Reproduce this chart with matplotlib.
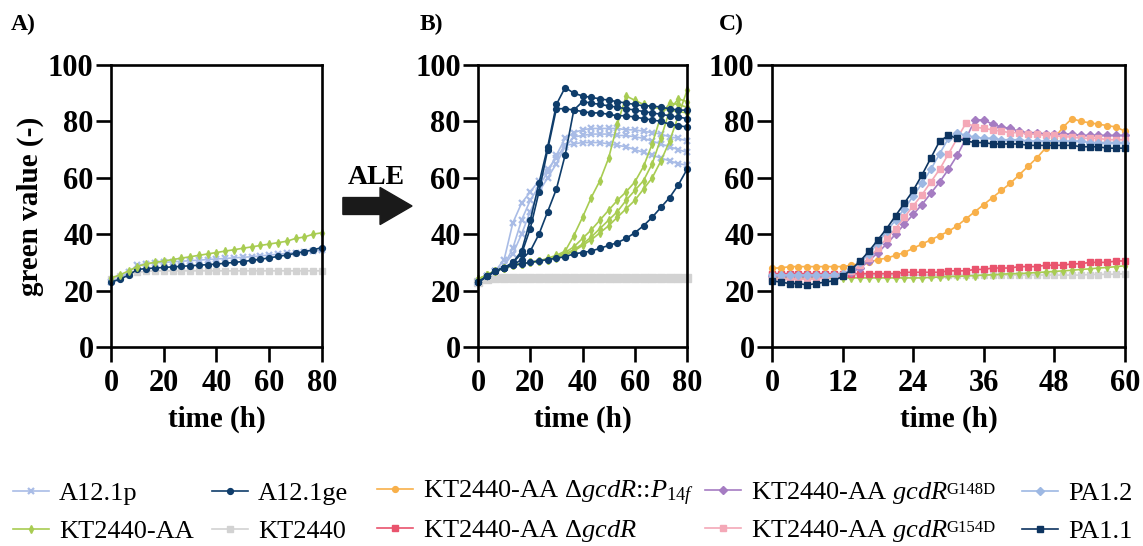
import matplotlib
matplotlib.use('Agg')
import matplotlib.pyplot as plt
from matplotlib.patches import FancyArrow
from matplotlib.transforms import IdentityTransform
import numpy as np

plt.rcParams['font.family'] = ['Liberation Serif', 'DejaVu Serif']
plt.rcParams['mathtext.fontset'] = 'custom'
plt.rcParams['mathtext.rm'] = 'Liberation Serif'
plt.rcParams['mathtext.it'] = 'Liberation Serif:italic'
plt.rcParams['mathtext.bf'] = 'Liberation Serif:bold'

# ---------------- data ----------------
# panels A and B: one reading every ~3.3 h over 80 h
t_ab = np.linspace(0, 80, 25)
# panel C: one reading every 1.5 h over 60 h
t_c = np.linspace(0, 60, 41)

# panel A
a_a12p = [23, 24.5, 26.5, 29, 29.5, 29.8, 30, 30.2, 30.4, 30.6, 30.8, 31, 31.2,
          31.4, 31.6, 31.8, 32, 32.3, 32.6, 32.9, 33.2, 33.5, 33.8, 34, 34.3]
a_a12ge = [23, 24, 25.5, 27.5, 27.8, 28, 28.2, 28.4, 28.6, 28.8, 29, 29.2, 29.4,
           29.7, 30, 30.3, 30.7, 31.1, 31.6, 32.1, 32.6, 33.2, 33.8, 34.5, 35.2]
a_kt = [24, 25, 26, 26.5, 26.8, 27, 27, 27, 27, 27, 27, 27, 27, 27, 27, 27, 27,
        27, 27, 27, 27, 27, 27, 27, 27]
a_ktaa = [24.5, 25.5, 27, 28.5, 29.5, 30, 30.5, 31, 31.5, 32, 32.5, 33, 33.5,
          34, 34.5, 35, 35.5, 36, 36.5, 37, 37.5, 38.5, 39, 40, 40.5]

# panel B (replicate evolved lines)
b_a12p = [
    [23, 25, 27, 31, 44, 51, 55, 59, 63, 67, 71.5, 72, 72.5, 72.5, 72.5, 72, 71.5,
     71, 70, 69, 68, 67, 66, 65, 64.5],
    [23, 25, 27, 29, 35, 45, 52, 57, 62, 68, 74, 76, 77, 77.5, 77.5, 77.5, 77.5,
     77, 77, 76.5, 76, 75.5, 74.5, 74, 73],
    [23, 25, 27, 29, 33, 40, 48, 55, 60, 65, 71, 74.5, 75, 75.5, 75.5, 75.5, 75,
     75, 74.5, 74, 73, 72, 71, 70, 69],
]
b_a12ge = [
    [23, 25, 27, 28, 30, 34, 45, 58, 71, 86, 92, 90, 89, 88.5, 88, 87.5, 87, 86.5,
     86, 85.5, 85.5, 85, 84.5, 84, 84],
    [23, 25, 27, 28, 30, 33, 42, 55, 70, 84.5, 84.5, 84, 83.5, 83, 83, 82.5, 82,
     82, 81.5, 81, 80.5, 80, 79, 78.5, 78],
    [23, 25, 27, 28, 29, 31, 34, 40, 48, 56, 68, 84, 87, 86.5, 86, 85.5, 85, 84.5,
     84, 83.5, 83, 82.5, 82, 81.5, 81],
    [23, 25, 27, 28, 29, 29.5, 30, 30.5, 31, 31.5, 32, 33, 33.5, 34, 35, 36, 37,
     38.5, 40.5, 43, 46, 49.5, 53, 57.5, 63],
]
b_kt = [23, 24, 24.3, 24.3, 24.3, 24.3, 24.3, 24.3, 24.3, 24.3, 24.3, 24.3, 24.3,
        24.3, 24.3, 24.3, 24.3, 24.3, 24.3, 24.3, 24.3, 24.3, 24.3, 24.3, 24.3]
b_ktaa = [
    [24, 25.5, 27, 28, 29, 29.5, 30, 30.5, 31.5, 32.5, 34, 39.5, 46, 53, 59, 67,
     79, 89, 87.5, 86, 85, 84.5, 84, 83.5, 83],
    [24, 25.5, 27, 28, 29, 29.5, 30, 30.5, 31, 32, 33.5, 35.5, 38.5, 41.5, 45,
     48.5, 52, 55, 58.5, 64, 72, 82, 86.5, 86, 85],
    [24, 25.5, 27, 28, 29, 29.5, 30, 30.5, 31, 31.5, 33, 34.5, 36.5, 39, 42, 45,
     48, 52, 55.5, 59, 65, 74, 84, 88, 87],
    [24, 25.5, 27, 28, 29, 29.5, 30, 30.5, 31, 31.5, 32.5, 34, 36, 38, 40.5, 43,
     46, 49, 52, 56, 60, 66, 73, 82, 91],
]

# panel C
c_kt = [25.5, 25.5, 25.5, 25.5, 25.5, 25.5, 25.5, 25.5, 25.5, 25.5, 25.5, 25.5,
        25.5, 25.5, 25.5, 25.5, 25.5, 25.5, 25.5, 25.5, 25.5, 25.5, 25.5, 25.5,
        25.5, 25.5, 25.5, 25.5, 25.5, 25.5, 25.5, 25.5, 25.5, 25.5, 25.5, 25.5,
        25.7, 25.7, 25.8, 25.8, 26]
c_ktaa = [24.5, 24.5, 24.5, 24.5, 24.5, 24.5, 24.5, 24.5, 24.5, 24.5, 24.5, 24.5,
          24.5, 24.5, 24.5, 24.5, 24.5, 24.5, 24.7, 24.8, 25, 25, 25.2, 25.3,
          25.5, 25.6, 25.8, 26, 26, 26.2, 26.4, 26.6, 26.8, 27, 27.2, 27.5, 27.7,
          28, 28.2, 28.5, 28.8]
c_dgcdr = [26, 26, 26, 26, 26, 26, 26, 26, 26, 26, 26, 26, 26, 26, 26, 26.5, 26.5,
           26.5, 26.5, 26.5, 27, 27, 27, 27.5, 27.5, 28, 28, 28, 28.5, 28.5, 28.5,
           29, 29, 29, 29.5, 29.5, 30, 30, 30, 30.5, 30.5]
c_p14f = [28, 28, 28.5, 28.5, 28.5, 28.5, 28.5, 28.5, 28.5, 29, 29.5, 30, 31, 31.5,
          32.5, 33.5, 35, 36.5, 38, 39.5, 41, 43, 45.5, 48, 50.5, 53, 55.5, 58, 61,
          64, 67, 70.5, 74, 78, 81, 80, 79.5, 79, 78.5, 78, 76.5]
c_g148d = [25, 25, 25, 25, 25, 25, 25, 25, 25.5, 26.5, 28, 30.5, 33.5, 36.5, 40,
           43.5, 47, 50.5, 54.5, 58.5, 63, 68, 74, 80.5, 80.5, 79, 78, 77.5, 76.5,
           76, 76, 75.5, 75.5, 75.5, 75.5, 75, 75, 75, 75, 75, 75]
c_g154d = [24, 24, 24, 24, 24, 24, 24.5, 25, 25.5, 27, 29, 31.5, 35, 38.5, 42, 46,
           50, 54, 58.5, 63, 68.5, 74, 79.5, 78, 77.5, 77, 76.5, 76, 76, 75.5, 75.5,
           75, 75, 74.5, 74.5, 74, 74, 74, 73.5, 73.5, 73.5]
c_pa12 = [25.5, 25.5, 25.5, 25.5, 25.5, 25.5, 25.5, 25.5, 26, 27.5, 30, 33, 37, 41,
          45, 49, 53.5, 58, 63, 68.5, 74, 76, 75, 74.5, 74, 74, 73.5, 73.5, 73.5,
          73, 73, 73, 73, 73, 73, 73, 72.5, 72.5, 72.5, 72.5, 72.5]
c_pa11 = [23.5, 23, 22.5, 22.5, 22, 22.5, 23, 23.5, 25, 27.5, 30.5, 34, 38, 42,
          46.5, 51, 55.5, 61, 67, 73, 75, 74, 73, 72.5, 72.5, 72, 72, 72, 72, 71.5,
          71.5, 71.5, 71.5, 71.5, 71.5, 71, 71, 71, 70.5, 70.5, 70.5]

# strain styles: colour, marker
styles = {
    'a12p': ('#a9bce6', 'x'),
    'a12ge': ('#0f3d6b', 'o'),
    'p14f': ('#f8b04a', 'o'),
    'g148d': ('#a57cc2', 'D'),
    'pa12': ('#9db8e3', 'D'),
    'ktaa': ('#a8cc52', 'd'),
    'kt': ('#d2d2d2', 's'),
    'dgcdr': ('#e9536d', 's'),
    'g154d': ('#f4a8b7', 's'),
    'pa11': ('#0d3460', 's'),
}

handles = {}


def draw(ax, t, y, key, ms=4.2):
    color, marker = styles[key]
    kw = dict(color=color, marker=marker, lw=1.2, ms=ms, clip_on=False)
    if marker == 'x':
        kw.update(mew=1.6, ms=5)
    (line,) = ax.plot(t, y, **kw)
    handles.setdefault(key, line)


def style_axes(ax, xmax, xticks):
    ax.set_xlim(0, xmax)
    ax.set_ylim(0, 100)
    ax.set_xticks(xticks)
    ax.set_yticks(range(0, 101, 20))
    for s in ax.spines.values():
        s.set_linewidth(1.9)
    ax.tick_params(direction='out', length=10.5, width=1.9, labelsize=22)
    ax.tick_params(axis='x', pad=5)
    ax.tick_params(axis='y', pad=2)
    for lab in ax.get_xticklabels() + ax.get_yticklabels():
        lab.set_fontweight('bold')
    ax.set_xlabel('time (h)', fontsize=21, fontweight='bold', labelpad=6)


fig = plt.figure(figsize=(11.43, 5.46), dpi=100)
ax_a = fig.add_axes([0.0971, 0.3645, 0.1846, 0.5165])
ax_b = fig.add_axes([0.4182, 0.3645, 0.1829, 0.5165])
ax_c = fig.add_axes([0.6754, 0.3645, 0.3088, 0.5165])

# A) ancestral strains
draw(ax_a, t_ab, a_kt, 'kt')
draw(ax_a, t_ab, a_a12p, 'a12p')
draw(ax_a, t_ab, a_a12ge, 'a12ge')
draw(ax_a, t_ab, a_ktaa, 'ktaa')
style_axes(ax_a, 80, [0, 20, 40, 60, 80])
ax_a.set_ylabel('green value (-)', fontsize=21, fontweight='bold', labelpad=3)

# B) after ALE
draw(ax_b, t_ab, b_kt, 'kt', ms=5.5)
for rep in b_a12p:
    draw(ax_b, t_ab, rep, 'a12p')
for rep in b_ktaa:
    draw(ax_b, t_ab, rep, 'ktaa')
for rep in b_a12ge:
    draw(ax_b, t_ab, rep, 'a12ge')
style_axes(ax_b, 80, [0, 20, 40, 60, 80])

# C) reverse engineered strains
draw(ax_c, t_c, c_kt, 'kt')
draw(ax_c, t_c, c_ktaa, 'ktaa')
draw(ax_c, t_c, c_dgcdr, 'dgcdr')
draw(ax_c, t_c, c_p14f, 'p14f')
draw(ax_c, t_c, c_g148d, 'g148d')
draw(ax_c, t_c, c_g154d, 'g154d')
draw(ax_c, t_c, c_pa12, 'pa12')
draw(ax_c, t_c, c_pa11, 'pa11')
style_axes(ax_c, 60, [0, 12, 24, 36, 48, 60])

# panel letters
for x, s in [(0.009, 'A)'), (0.367, 'B)'), (0.629, 'C)')]:
    fig.text(x, 0.955, s, fontsize=17, fontweight='bold', va='center')

# ALE arrow between A and B
fig.text(0.3295, 0.675, 'ALE', fontsize=20, fontweight='bold', ha='center', va='center')
fig.patches.append(FancyArrow(0.300, 0.6227, 0.0605, 0, width=0.031, head_width=0.068,
                              head_length=0.028, length_includes_head=True,
                              color='#1a1a1a', transform=fig.transFigure, figure=fig))

# legend: one entry per slot so rows line up across columns
labels = {
    'a12p': 'A12.1p',
    'ktaa': 'KT2440-AA',
    'a12ge': 'A12.1ge',
    'kt': 'KT2440',
    'p14f': r'KT2440-AA Δ$\mathit{gcdR}$::$\mathit{P}_{\mathit{14f}}$',
    'dgcdr': r'KT2440-AA Δ$\mathit{gcdR}$',
    'g148d': r'KT2440-AA $\mathit{gcdR}$',
    'g154d': r'KT2440-AA $\mathit{gcdR}$',
    'pa12': 'PA1.2',
    'pa11': 'PA1.1',
}
# small superscripts (the mutation), drawn after the label
superscripts = {'g148d': 'G148D', 'g154d': 'G154D'}
columns = [(13, ['a12p', 'ktaa']), (212, ['a12ge', 'kt']),
           (377, ['p14f', 'dgcdr']), (705, ['g148d', 'g154d']),
           (1022, ['pa12', 'pa11'])]
rows_y = [493, 531]
legends = {}
for x, keys in columns:
    for key, y in zip(keys, rows_y):
        legends[key] = fig.legend([handles[key]], [labels[key]], loc='center left',
                                  bbox_to_anchor=(x / 1143, 1 - y / 546), frameon=False,
                                  fontsize=19, handlelength=1.35, handletextpad=0.4,
                                  borderpad=0, borderaxespad=0)

fig.canvas.draw()
renderer = fig.canvas.get_renderer()
for key, sup in superscripts.items():
    bb = legends[key].get_texts()[0].get_window_extent(renderer)
    fig.text(bb.x1 - 2, bb.y1 - 2, sup, fontsize=12, va='top', ha='left',
             transform=IdentityTransform())

fig.savefig('out.png', dpi=100)
